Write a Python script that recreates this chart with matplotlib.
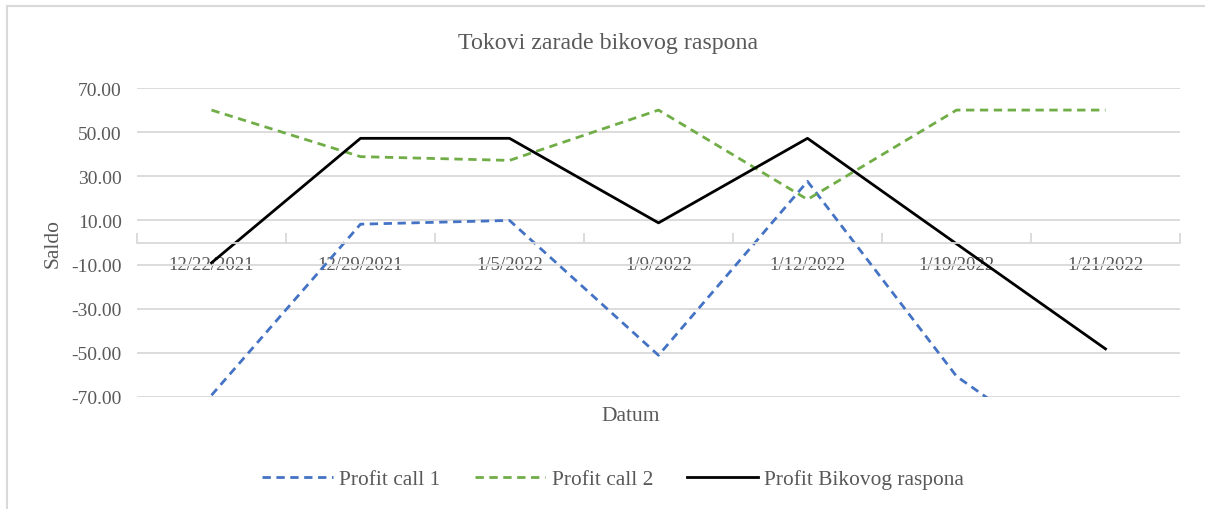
import matplotlib.pyplot as plt
from matplotlib.lines import Line2D
import numpy as np

dates = ["12/22/2021", "12/29/2021", "1/5/2022", "1/9/2022", "1/12/2022", "1/19/2022", "1/21/2022"]
profit_call_1 = [-69.2, 8.3, 10.0, -51.1, 27.7, -60.6, -108.2]
profit_call_2 = [60.0, 38.9, 37.2, 60.0, 19.5, 60.0, 60.0]
profit_spread = [-9.2, 47.2, 47.2, 8.9, 47.2, -0.6, -48.2]
y_ticks = [-70, -50, -30, -10, 10, 30, 50, 70]

plt.rcParams['font.family'] = ['Liberation Serif', 'DejaVu Serif']
txt = '#595959'
grid = '#d9d9d9'

fig = plt.figure(figsize=(12.05, 5.1), dpi=100)
ax = fig.add_axes([137 / 1205, 1 - 398 / 510, (1180 - 137) / 1205, (398 - 89) / 510])

x = np.arange(len(dates))
ax.plot(x, profit_call_1, color='#4472c4', lw=2, ls=(0, (3, 2)), label='Profit call 1')
ax.plot(x, profit_call_2, color='#70ad47', lw=2, ls=(0, (3, 2)), label='Profit call 2')
ax.plot(x, profit_spread, color='black', lw=2, label='Profit Bikovog raspona')

ax.set_xlim(-0.5, len(dates) - 0.5)
ax.set_ylim(-70, 70)
ax.set_yticks(y_ticks)
ax.set_yticklabels([f"{v:.2f}" for v in y_ticks], color=txt, fontsize=14)
ax.yaxis.grid(True, color=grid, lw=1.3)
ax.set_axisbelow(True)
ax.tick_params(axis='y', length=0, pad=11)

for s in ['top', 'right', 'left']:
    ax.spines[s].set_visible(False)
ax.spines['bottom'].set_position(('data', 0))
ax.spines['bottom'].set_color(grid)
ax.spines['bottom'].set_linewidth(1.3)

# category labels sit below the zero axis, ticks between categories point up
ax.set_xticks(x)
ax.set_xticklabels(dates, color=txt, fontsize=13.5)
ax.tick_params(axis='x', which='major', length=0, pad=10)
ax.set_xticks(np.arange(-0.5, len(dates)), minor=True)
ax.tick_params(axis='x', which='minor', direction='in', length=7, color=grid, width=1.3)

ax.set_ylabel('Saldo', color=txt, fontsize=15.5)
ax.yaxis.set_label_coords(-0.071, 0.5)
fig.text(631 / 1205, 1 - 417 / 510, 'Datum', color=txt, fontsize=15.5, ha='center', va='center')
fig.text(608 / 1205, 1 - 43 / 510, 'Tokovi zarade bikovog raspona', color=txt, fontsize=17.2,
         ha='center', va='center')

fig.legend(loc='center', bbox_to_anchor=(613 / 1205, 1 - 480 / 510), ncol=3, frameon=False,
           fontsize=15.4, labelcolor=txt, handlelength=3.3, columnspacing=1.6, handletextpad=0.3)

# chart border (top and left visible)
fig.add_artist(Line2D([7 / 1205, 7 / 1205], [0, 1 - 7 / 510], color=grid, lw=1.5))
fig.add_artist(Line2D([7 / 1205, 1], [1 - 7 / 510, 1 - 7 / 510], color=grid, lw=1.5))

fig.savefig('out.png', dpi=100)
